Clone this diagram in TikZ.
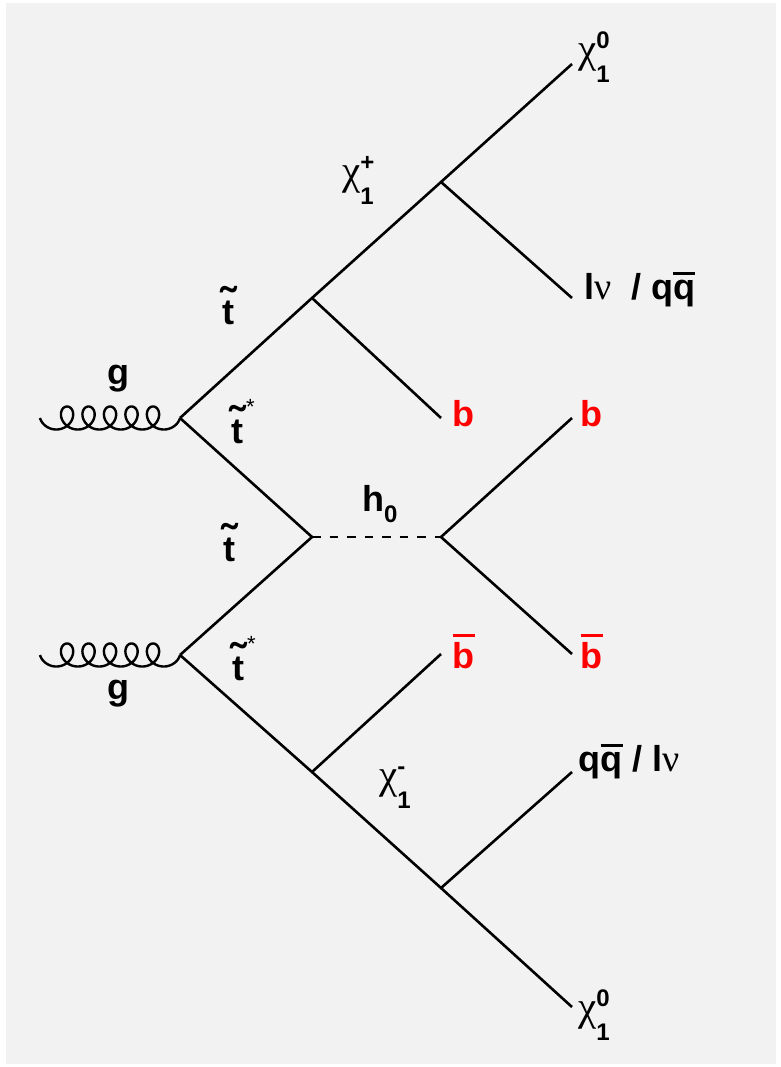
\documentclass[tikz,border=0pt]{standalone}
\usepackage{fontspec}
\setmainfont{Liberation Sans}
\newfontfamily\grkfont{Liberation Serif}
\definecolor{bgc}{HTML}{F2F2F2}
\definecolor{pred}{HTML}{FF0000}
\newcommand{\lblfont}{\fontsize{36}{40}\selectfont\bfseries}
\newcommand{\chisym}{{\grkfont\upshape\mdseries\fontsize{41}{44}\selectfont χ}}
\newcommand{\nusym}{{\grkfont\mdseries\fontsize{38}{40}\selectfont ν}}
\newcommand{\idxfont}{\fontsize{24}{26}\selectfont\bfseries}
\newcommand{\chil}[2]{\chisym\kern0pt\rlap{\raisebox{-20pt}{\idxfont #2}}\raisebox{14pt}{\idxfont #1}}
\newcommand{\ovl}[1]{{\sbox0{#1}\rlap{\raisebox{\dimexpr\ht0+5pt\relax}{\rule{\wd0}{2.6pt}}}\usebox0}}
\newcommand{\tld}{\ooalign{t\cr\hidewidth\raisebox{5pt}{\fontsize{46}{46}\selectfont ˜}\hidewidth\cr}}
\newcommand{\stt}{\kern3pt\raisebox{29pt}{\fontsize{22}{22}\selectfont\mdseries *}}
\tikzset{
  particle/.style={line width=2.6pt},
  gluon/.style={line width=2.4pt},
  higgs/.style={line width=2.8pt, dash pattern=on 8.5pt off 9pt},
  lbl/.style={font=\lblfont, inner sep=0pt, anchor=base west},
  redlbl/.style={lbl, text=pred}
}
\begin{document}
\begin{tikzpicture}[x=1pt,y=-1pt]
\useasboundingbox (0,0) rectangle (780,1067);
\fill[bgc] (6,3) rectangle (776,1064);
% vertices
\coordinate (v1) at (180,418);
\coordinate (v2) at (180,655);
\coordinate (a) at (312,298);
\coordinate (c) at (441,182);
\coordinate (h1) at (312,537);
\coordinate (h2) at (441,537);
\coordinate (bv) at (312,772);
\coordinate (c2) at (441,888);
% free ends
\coordinate (e1) at (572,64);
\coordinate (e2) at (572,298);
\coordinate (e3) at (441,418);
\coordinate (e4) at (572,418);
\coordinate (e5) at (572,654);
\coordinate (e6) at (441,654);
\coordinate (e7) at (572,772);
\coordinate (e8) at (572,1007);
% gluons
\begin{scope}[shift={(v1)}]
\draw[gluon] plot[domain=1.5708:36.1283, samples=400, variable=\t]
  ({-140+3.42*((\t-1.5708)-3.2*(sin(\t r)-1))},{-11.5*cos(\t r)});
\end{scope}
\begin{scope}[shift={(v2)}]
\draw[gluon] plot[domain=1.5708:36.1283, samples=400, variable=\t]
  ({-140+3.42*((\t-1.5708)-3.2*(sin(\t r)-1))},{-11.5*cos(\t r)});
\end{scope}
% propagators
\draw[particle] (v1) -- (a) -- (c) -- (e1);
\draw[particle] (c) -- (e2);
\draw[particle] (a) -- (e3);
\draw[particle] (v1) -- (h1) -- (v2);
\draw[higgs] (h1) -- (h2);
\draw[particle] (e4) -- (h2) -- (e5);
\draw[particle] (v2) -- (bv) -- (c2) -- (e8);
\draw[particle] (bv) -- (e6);
\draw[particle] (c2) -- (e7);
% labels
\node[lbl] (gup) at (107.5,384) {g};
\node[lbl] (gdn) at (107.5,699) {g};
\node[lbl] (t1) at (222,324) {\tld};
\node[lbl] (t2) at (231,443) {\tld\stt};
\node[lbl] (t3) at (223,561) {\tld};
\node[lbl] (t4) at (232,680) {\tld\stt};
\node[lbl] (chp) at (342,185) {\chil{+}{1}};
\node[lbl] (hz) at (362,511) {h\raisebox{-11pt}{\fontsize{24}{26}\selectfont\bfseries 0}};
\node[lbl] (chm) at (379,788) {\chil{-}{1}};
\node[lbl] (chz1) at (578,63) {\chil{0}{1}};
\node[lbl] (lnu1) at (584,299) {l{\nusym}\ \ / q\ovl{q}};
\node[redlbl] (b1) at (452.5,426) {b};
\node[redlbl] (b2) at (580.5,426) {b};
\node[redlbl] (bb1) at (452.5,668) {\ovl{b}};
\node[redlbl] (bb2) at (580.5,668) {\ovl{b}};
\node[lbl] (qq2) at (578.5,771) {q\ovl{q} / l{\nusym}};
\node[lbl] (chz2) at (578,1020) {\chil{0}{1}};
\end{tikzpicture}
\end{document}
